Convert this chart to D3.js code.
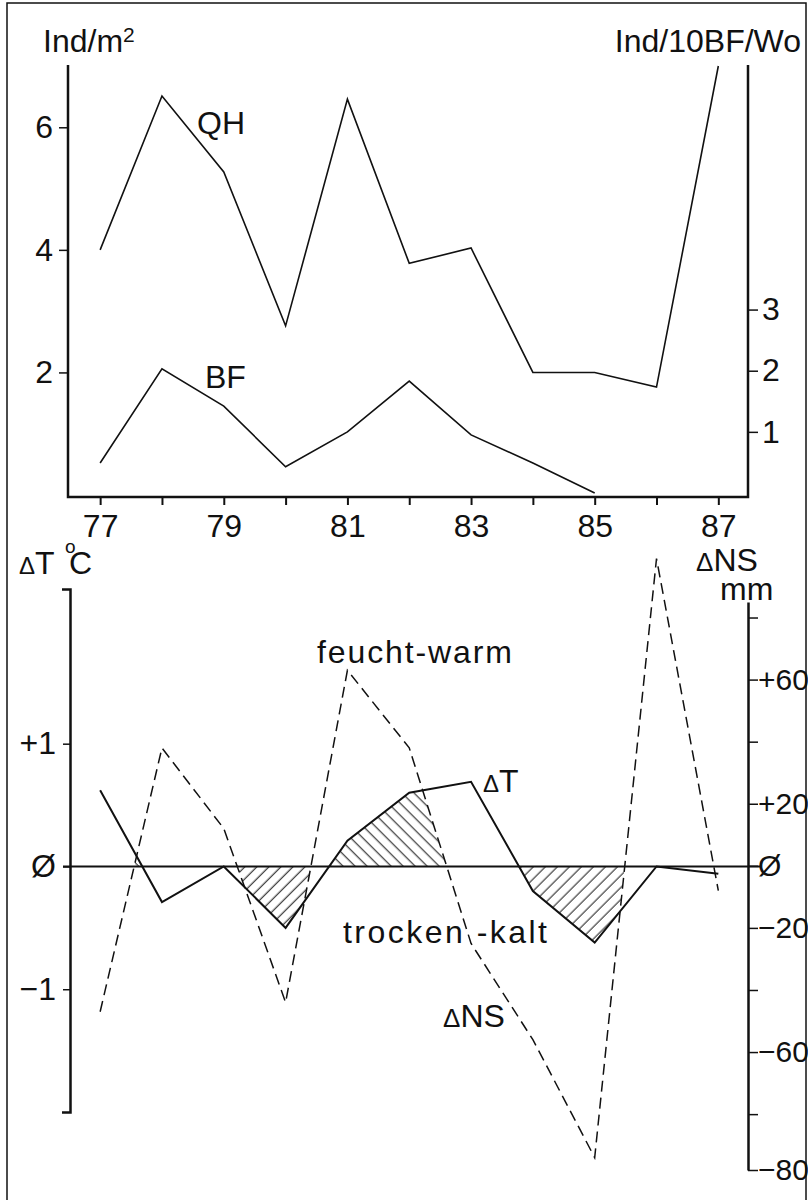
<!DOCTYPE html>
<html lang="de">
<head>
<meta charset="UTF-8">
<title>QH / BF und Witterung 1977-1987</title>
<script src="https://d3js.org/d3.v7.min.js"></script>
<style>
  body { margin: 0; background: #fff; }
  svg text { font-family: "Liberation Sans", Arial, Helvetica, sans-serif; font-size: 32px; fill: #111; }
  .axis path, .axis line { stroke: #111; }
  .ns-axis text { font-size: 30px; }
</style>
</head>
<body>
<div id="chart"></div>
<script>
// --- data ---
var years = [77, 78, 79, 80, 81, 82, 83, 84, 85, 86, 87];
var yearLabels = [77, 79, 81, 83, 85, 87];
var qh = [4.0, 6.51, 5.27, 2.76, 6.46, 3.78, 4.03, 2.0, 2.0, 1.76, 7.0];   // Ind/m2
var bf = [0.49, 2.03, 1.42, 0.43, 1.0, 1.83, 0.95, 0.49, 0.0];             // Ind/10BF/Wo, 77-85
var dT = [0.62, -0.29, 0.0, -0.5, 0.21, 0.6, 0.69, -0.2, -0.62, 0.0, -0.06]; // deg C
var dNS = [-47, 38, 12, -44, 63, 38, -25, -56, -94, 99, -8];                // mm
var qhTicks = [2, 4, 6];
var bfTicks = [1, 2, 3];
var dTTicks = [-1, 0, 1];
var dTTickLabels = ["\u22121", "\u00D8", "+1"];
var nsTicks = [80, 60, 40, 20, 0, -20, -40, -60, -80, -98];
var nsTickLabels = ["", "+60", "", "+20", "\u00D8", "\u221220", "", "\u221260", "", "\u221280"];

var svg = d3.select("#chart").append("svg")
    .attr("width", 808)
    .attr("height", 1200);

// outer frame
svg.append("rect")
    .attr("x", 7).attr("y", 3)
    .attr("width", 799).attr("height", 1210)
    .attr("fill", "none").attr("stroke", "#111").attr("stroke-width", 1.5);

var x = d3.scaleLinear().domain([76.48, 87.48]).range([68, 748]);

// ---------- upper panel ----------
var yQH = d3.scaleLinear().domain([0, 7]).range([495, 66]);
var yBF = d3.scaleLinear().domain([0, 7]).range([493, 65]);
var upperTop = 65, upperBottom = 497;

svg.append("path")
    .attr("d", "M" + x.range()[0] + "," + upperTop + "V" + upperBottom + "H" + x.range()[1] + "V" + upperTop)
    .attr("fill", "none").attr("stroke", "#111").attr("stroke-width", 2.5);

var xAxis = svg.append("g")
    .attr("class", "axis")
    .attr("transform", "translate(0," + upperBottom + ")")
    .call(d3.axisBottom(x).tickValues(years).tickSize(8).tickPadding(9)
        .tickFormat(function (d) { return yearLabels.indexOf(d) >= 0 ? d : ""; }));
xAxis.select(".domain").remove();
xAxis.selectAll("line").attr("stroke-width", 2);

var leftAxis = svg.append("g")
    .attr("class", "axis")
    .attr("transform", "translate(" + x.range()[0] + ",0)")
    .call(d3.axisLeft(yQH).tickValues(qhTicks).tickSize(9).tickPadding(6).tickFormat(d3.format("d")));
leftAxis.select(".domain").remove();
leftAxis.selectAll("line").attr("stroke-width", 1.5);

var rightAxis = svg.append("g")
    .attr("class", "axis")
    .attr("transform", "translate(" + x.range()[1] + ",0)")
    .call(d3.axisRight(yBF).tickValues(bfTicks).tickSize(10).tickPadding(4).tickFormat(d3.format("d")));
rightAxis.select(".domain").remove();
rightAxis.selectAll("line").attr("stroke-width", 1.5);

var qhLine = d3.line().x(function (d, i) { return x(years[i]); }).y(function (d) { return yQH(d); });
var bfLine = d3.line().x(function (d, i) { return x(years[i]); }).y(function (d) { return yBF(d); });

svg.append("path").attr("d", qhLine(qh))
    .attr("fill", "none").attr("stroke", "#111").attr("stroke-width", 1.6);
svg.append("path").attr("d", bfLine(bf))
    .attr("fill", "none").attr("stroke", "#111").attr("stroke-width", 1.6);

var t1 = svg.append("text").attr("x", 43).attr("y", 52);
t1.append("tspan").text("Ind/m");
t1.append("tspan").attr("dy", -10).style("font-size", "21px").text("2");

svg.append("text").attr("x", 801).attr("y", 52).attr("text-anchor", "end").text("Ind/10BF/Wo");
svg.append("text").attr("x", 197).attr("y", 134).text("QH");
svg.append("text").attr("x", 205).attr("y", 388).text("BF");

// ---------- lower panel ----------
var yT = d3.scaleLinear().domain([-2, 2.26]).range([1112, 589]);
var yN = d3.scaleLinear().domain([-98, 85]).range([1170, 602]);

var lower = years.map(function (yr, i) { return { year: yr, t: dT[i], ns: dNS[i] }; });

var defs = svg.append("defs");
function hatch(id, angle) {
    defs.append("pattern")
        .attr("id", id)
        .attr("patternUnits", "userSpaceOnUse")
        .attr("width", 8.5).attr("height", 8.5)
        .attr("patternTransform", "rotate(" + angle + ")")
        .append("line")
        .attr("x1", 4).attr("y1", 0).attr("x2", 4).attr("y2", 8.5)
        .attr("stroke", "#111").attr("stroke-width", 1);
}
hatch("hatchWarm", -45);
hatch("hatchCold", 45);

var zeroY = yT(0);
var areaT = d3.area().x(function (d) { return x(d.year); }).y0(zeroY).y1(function (d) { return yT(d.t); });
var areaN = d3.area().x(function (d) { return x(d.year); }).y0(zeroY).y1(function (d) { return yN(d.ns); });
defs.append("clipPath").attr("id", "clipT").append("path").attr("d", areaT(lower));
defs.append("clipPath").attr("id", "clipN").append("path").attr("d", areaN(lower));

// hatched where dT and dNS have the same sign (feucht-warm / trocken-kalt)
var hatchG = svg.append("g").attr("clip-path", "url(#clipN)")
    .append("g").attr("clip-path", "url(#clipT)");
hatchG.append("rect")
    .attr("x", x.range()[0]).attr("width", x.range()[1] - x.range()[0])
    .attr("y", yN.range()[1] - 60).attr("height", zeroY - yN.range()[1] + 60)
    .attr("fill", "url(#hatchWarm)");
hatchG.append("rect")
    .attr("x", x.range()[0]).attr("width", x.range()[1] - x.range()[0])
    .attr("y", zeroY).attr("height", yN.range()[0] - zeroY + 30)
    .attr("fill", "url(#hatchCold)");

var tAxis = svg.append("g")
    .attr("class", "axis")
    .attr("transform", "translate(70,0)")
    .call(d3.axisLeft(yT).tickValues(dTTicks).tickSize(7).tickSizeOuter(8).tickPadding(7)
        .tickFormat(function (d, i) { return dTTickLabels[i]; }));
tAxis.select(".domain").attr("stroke-width", 2.5);
tAxis.selectAll("line").attr("stroke-width", 1.5);

var nAxis = svg.append("g")
    .attr("class", "axis ns-axis")
    .attr("transform", "translate(" + x.range()[1] + ",0)")
    .call(d3.axisRight(yN).tickValues(nsTicks).tickSize(10).tickSizeOuter(0).tickPadding(0)
        .tickFormat(function (d, i) { return nsTickLabels[i]; }));
nAxis.select(".domain").attr("stroke-width", 2.5);
nAxis.selectAll("line").attr("stroke-width", 1.5);

// zero line
svg.append("line")
    .attr("x1", 63).attr("x2", 760)
    .attr("y1", zeroY).attr("y2", zeroY)
    .attr("stroke", "#111").attr("stroke-width", 2);

var tLine = d3.line().x(function (d) { return x(d.year); }).y(function (d) { return yT(d.t); });
var nLine = d3.line().x(function (d) { return x(d.year); }).y(function (d) { return yN(d.ns); });

svg.append("path").attr("d", nLine(lower))
    .attr("fill", "none").attr("stroke", "#111").attr("stroke-width", 1.5)
    .attr("stroke-dasharray", "11,6");
svg.append("path").attr("d", tLine(lower))
    .attr("fill", "none").attr("stroke", "#111").attr("stroke-width", 2);

// axis titles of the lower panel (small delta as in the original)
var t2 = svg.append("text").attr("y", 574);
t2.append("tspan").attr("x", 19).style("font-size", "24px").text("\u0394");
t2.append("tspan").text("T");
t2.append("tspan").attr("x", 65).attr("dy", -21).style("font-size", "19px").text("o");
t2.append("tspan").attr("x", 69).attr("dy", 21).text("C");

var t3 = svg.append("text").attr("x", 696).attr("y", 571);
t3.append("tspan").style("font-size", "26px").text("\u0394");
t3.append("tspan").text("NS");
svg.append("text").attr("x", 720).attr("y", 600).text("mm");

svg.append("text").attr("x", 317).attr("y", 663)
    .attr("textLength", 195).attr("lengthAdjust", "spacing").text("feucht-warm");

var t4 = svg.append("text").attr("x", 483).attr("y", 792);
t4.append("tspan").style("font-size", "24px").text("\u0394");
t4.append("tspan").text("T");

svg.append("text").attr("x", 343).attr("y", 943)
    .attr("textLength", 204).attr("lengthAdjust", "spacing").text("trocken -kalt");

var t5 = svg.append("text").attr("x", 443).attr("y", 1027);
t5.append("tspan").style("font-size", "26px").text("\u0394");
t5.append("tspan").text("NS");
</script>
</body>
</html>
